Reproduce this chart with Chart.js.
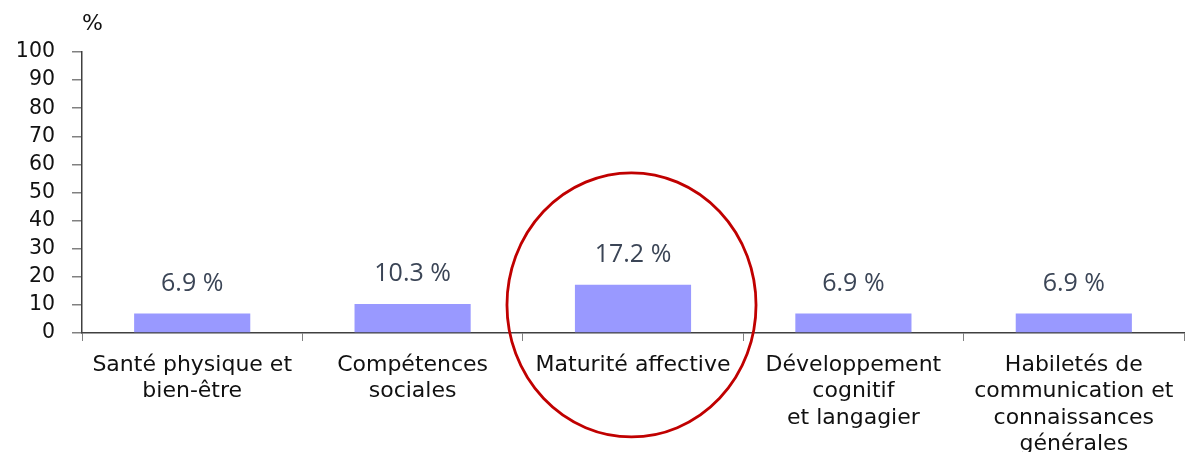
<!DOCTYPE html>
<html>
<head>
<meta charset="utf-8">
<script src="https://cdn.jsdelivr.net/npm/chart.js@4/dist/chart.umd.min.js"></script>
<style>
  html, body { margin: 0; padding: 0; background: #ffffff; }
  #wrap { width: 1190px; height: 452px; }
</style>
</head>
<body>
<div id="wrap"><canvas id="c" width="1190" height="452"></canvas></div>
<script>
const categories = [
  ['Santé physique et', 'bien-être'],
  ['Compétences', 'sociales'],
  ['Maturité affective'],
  ['Développement', 'cognitif', 'et langagier'],
  ['Habiletés de', 'communication et', 'connaissances', 'générales']
];
const values = [6.9, 10.3, 17.2, 6.9, 6.9];
const valueLabels = ['6.9 %', '10.3 %', '17.2 %', '6.9 %', '6.9 %'];
const yMin = 0;
const yMax = 100;
const yStep = 10;
const unitLabel = '%';
const highlightIndex = 2;

const extras = {
  id: 'extras',
  afterDatasetsDraw(chart) {
    const ctx = chart.ctx;
    const meta = chart.getDatasetMeta(0);
    ctx.save();
    ctx.fillStyle = '#3b4556';
    ctx.font = '25px "Open Sans"';
    ctx.textAlign = 'center';
    ctx.textBaseline = 'alphabetic';
    meta.data.forEach((bar, i) => {
      ctx.fillText(valueLabels[i], bar.x, bar.y - 23);
    });
    ctx.fillStyle = '#111111';
    ctx.font = '22px "DejaVu Sans"';
    ctx.textAlign = 'left';
    ctx.textBaseline = 'middle';
    ctx.fillText(unitLabel, chart.chartArea.left, 24);
    ctx.restore();
  },
  afterDraw(chart) {
    const ctx = chart.ctx;
    const xs = chart.scales.x, ys = chart.scales.y;
    const catW = (xs.right - xs.left) / categories.length;
    const cx = xs.getPixelForValue(highlightIndex) - 1.5;
    const cy = ys.getPixelForValue(10);
    const rx = catW * 0.565;
    const ry = ys.getPixelForValue(0) - ys.getPixelForValue(47);
    ctx.save();
    ctx.strokeStyle = '#c00000';
    ctx.lineWidth = 2.8;
    ctx.beginPath();
    ctx.ellipse(cx, cy, rx, ry, 0, 0, Math.PI * 2);
    ctx.stroke();
    ctx.restore();
  }
};

new Chart(document.getElementById('c'), {
  type: 'bar',
  data: {
    labels: categories,
    datasets: [{
      data: values,
      backgroundColor: '#9999ff',
      borderWidth: 0,
      categoryPercentage: 1,
      barPercentage: 0.527
    }]
  },
  options: {
    responsive: false,
    animation: false,
    devicePixelRatio: 1,
    layout: { padding: { top: 52, right: 6, left: 0, bottom: 0 } },
    plugins: { legend: { display: false }, tooltip: { enabled: false } },
    scales: {
      x: {
        type: 'category',
        offset: true,
        grid: { offset: true, drawOnChartArea: false, drawTicks: true, tickLength: 8, color: '#808080', lineWidth: 1 },
        border: { color: '#404040', width: 1.5 },
        ticks: {
          color: '#111111',
          font: { family: 'DejaVu Sans', size: 22, lineHeight: 1.2 },
          padding: 11,
          maxRotation: 0,
          autoSkip: false
        },
        afterFit(scale) { scale.height = 452 - 333; }
      },
      y: {
        min: yMin,
        max: yMax,
        grid: { drawOnChartArea: false, drawTicks: true, tickLength: 10, color: '#808080', lineWidth: 1.5 },
        border: { color: '#404040', width: 1.5 },
        ticks: {
          stepSize: yStep,
          autoSkip: false,
          color: '#111111',
          font: { family: 'DejaVu Sans', size: 20.5 },
          padding: 17
        },
        afterFit(scale) { scale.width = 82; }
      }
    }
  },
  plugins: [extras]
});
</script>
</body>
</html>
